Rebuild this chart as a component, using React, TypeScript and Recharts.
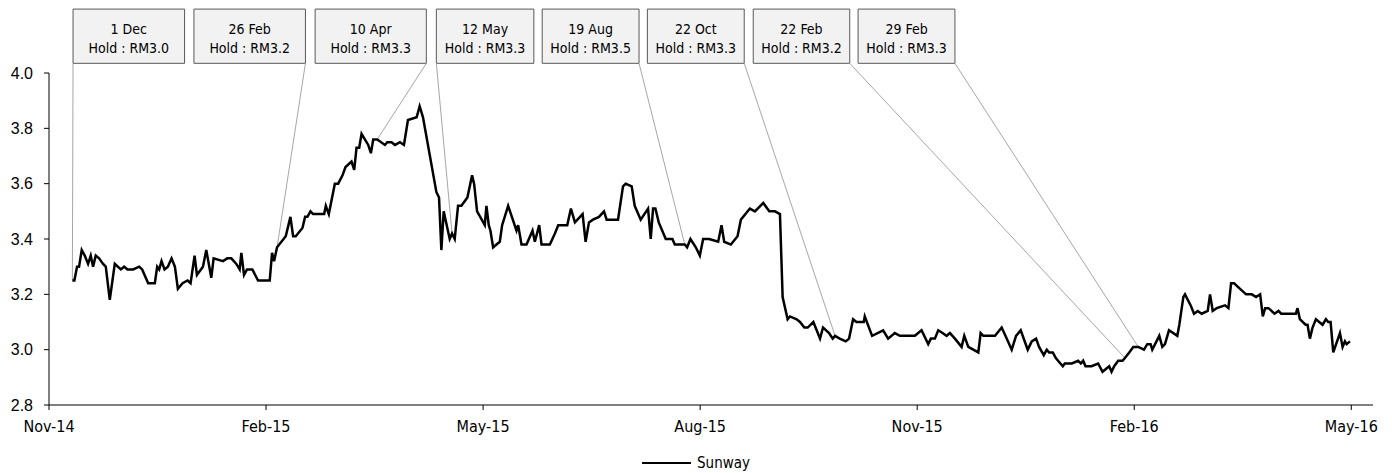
import React from 'react';
import { LineChart, Line, XAxis, YAxis, ReferenceLine, ReferenceArea, Legend } from 'recharts';

// ---- axis ticks ----
const TICK_POS = [0, 65, 130, 195, 260, 325, 390];
const TICK_LABELS = ['Nov-14', 'Feb-15', 'May-15', 'Aug-15', 'Nov-15', 'Feb-16', 'May-16'];
const Y_TICKS = [2.8, 3.0, 3.2, 3.4, 3.6, 3.8, 4.0];

// ---- series: trading-day position and Sunway close (RM) ----
const DAY_INDEX = [
  7.0, 7.6, 8.4, 9.0, 9.8, 10.7, 11.7, 12.5, 13.2, 14.0, 15.0, 16.2, 17.0, 18.2, 19.7, 21.5, 22.5, 23.5, 25.2, 27.0,
  27.9, 29.7, 31.7, 32.4, 33.0, 33.7, 34.6, 35.6, 36.7, 37.7, 38.6, 40.0, 41.5, 42.4, 43.6, 44.3, 46.1, 47.1, 48.6, 49.3,
  52.1, 53.4, 54.6, 56.1, 57.1, 57.6, 58.4, 59.3, 60.9, 62.6, 66.1, 66.8, 67.4, 68.3, 70.9, 72.3, 73.1, 73.9, 75.9, 76.7,
  77.4, 78.3, 79.1, 82.4, 82.9, 83.8, 85.6, 86.6, 87.9, 88.8, 90.6, 91.4, 92.1, 92.9, 93.6, 95.6, 96.4, 97.1, 98.3, 100.6,
  101.3, 102.6, 103.6, 105.1, 106.3, 107.5, 110.1, 111.0, 112.0, 116.0, 116.8, 117.5, 118.2, 120.0, 120.7, 121.5, 122.5, 123.5, 125.3, 126.7,
  127.3, 128.2, 130.5, 131.0, 131.7, 132.2, 133.0, 135.0, 135.7, 137.5, 140.0, 140.5, 141.5, 143.0, 144.8, 145.5, 146.8, 147.5, 150.0, 151.5,
  152.5, 155.2, 156.3, 157.5, 159.8, 160.7, 161.7, 162.9, 164.7, 166.2, 167.0, 170.4, 171.9, 172.7, 174.5, 175.4, 177.2, 179.4, 180.2, 180.9,
  181.6, 182.6, 184.7, 186.7, 187.4, 190.4, 191.1, 192.1, 193.7, 194.9, 195.9, 197.7, 200.4, 201.4, 202.2, 204.2, 206.2, 207.2, 209.9, 211.4,
  213.9, 215.7, 217.4, 218.9, 219.7, 221.2, 221.9, 223.9, 224.9, 226.2, 227.2, 228.9, 229.9, 230.9, 231.8, 233.6, 234.7, 235.4, 236.8, 238.6,
  239.6, 240.8, 241.8, 244.0, 244.3, 246.5, 249.8, 251.3, 253.3, 254.8, 259.3, 261.3, 263.3, 264.1, 265.3, 266.3, 267.6, 268.8, 269.8, 271.3,
  273.3, 274.1, 275.3, 276.8, 278.3, 279.0, 279.8, 283.3, 285.3, 286.8, 288.3, 289.6, 291.0, 293.1, 294.3, 295.6, 296.5, 297.9, 298.8, 299.5,
  300.6, 301.5, 303.6, 304.2, 306.3, 308.2, 309.0, 309.7, 310.4, 312.2, 314.2, 315.5, 317.5, 318.2, 319.0, 320.2, 321.5, 322.2, 323.5, 324.7,
  326.2, 327.9, 328.9, 329.9, 330.4, 332.5, 333.4, 334.2, 335.4, 337.9, 338.5, 339.7, 340.2, 341.9, 342.9, 344.0, 345.2, 347.0, 347.7, 348.5,
  349.7, 352.2, 353.2, 354.0, 354.9, 356.7, 358.5, 360.2, 361.5, 362.7, 363.5, 364.2, 365.2, 367.0, 368.2, 369.0, 373.4, 373.9, 374.6, 376.3,
  376.9, 377.6, 378.4, 379.4, 381.4, 382.4, 383.1, 383.8, 384.6, 386.6, 387.4, 388.1, 388.6, 389.6,
];
const SUNWAY = [
  3.25, 3.25, 3.30, 3.30, 3.36, 3.34, 3.31, 3.34, 3.30, 3.34, 3.33, 3.31, 3.30, 3.18, 3.31, 3.29, 3.30, 3.29, 3.29, 3.30,
  3.29, 3.24, 3.24, 3.30, 3.29, 3.32, 3.29, 3.30, 3.33, 3.30, 3.22, 3.24, 3.25, 3.24, 3.34, 3.27, 3.30, 3.36, 3.26, 3.33,
  3.32, 3.33, 3.33, 3.31, 3.29, 3.35, 3.27, 3.29, 3.29, 3.25, 3.25, 3.35, 3.32, 3.37, 3.41, 3.48, 3.41, 3.41, 3.44, 3.48,
  3.48, 3.50, 3.49, 3.49, 3.52, 3.49, 3.60, 3.60, 3.63, 3.66, 3.68, 3.65, 3.73, 3.73, 3.78, 3.74, 3.71, 3.76, 3.76, 3.74,
  3.75, 3.75, 3.74, 3.75, 3.74, 3.83, 3.84, 3.88, 3.84, 3.57, 3.55, 3.36, 3.50, 3.40, 3.42, 3.40, 3.52, 3.52, 3.55, 3.63,
  3.60, 3.50, 3.45, 3.52, 3.45, 3.43, 3.37, 3.39, 3.45, 3.52, 3.43, 3.45, 3.38, 3.38, 3.43, 3.39, 3.45, 3.38, 3.38, 3.42,
  3.45, 3.45, 3.51, 3.46, 3.49, 3.39, 3.46, 3.47, 3.48, 3.50, 3.47, 3.47, 3.59, 3.60, 3.59, 3.52, 3.47, 3.51, 3.40, 3.51,
  3.51, 3.46, 3.40, 3.40, 3.38, 3.38, 3.37, 3.40, 3.37, 3.34, 3.40, 3.40, 3.39, 3.45, 3.39, 3.38, 3.41, 3.47, 3.51, 3.50,
  3.53, 3.50, 3.50, 3.49, 3.19, 3.11, 3.12, 3.11, 3.10, 3.08, 3.08, 3.10, 3.07, 3.04, 3.08, 3.06, 3.04, 3.05, 3.04, 3.03,
  3.04, 3.11, 3.10, 3.10, 3.12, 3.05, 3.07, 3.04, 3.06, 3.05, 3.05, 3.07, 3.02, 3.04, 3.04, 3.07, 3.06, 3.05, 3.06, 3.04,
  3.01, 3.05, 3.01, 3.00, 2.99, 3.06, 3.05, 3.05, 3.08, 3.04, 3.00, 3.05, 3.07, 3.00, 3.03, 3.04, 3.01, 2.98, 3.00, 2.99,
  2.99, 2.97, 2.94, 2.95, 2.95, 2.96, 2.95, 2.96, 2.94, 2.94, 2.95, 2.92, 2.94, 2.92, 2.94, 2.96, 2.96, 2.97, 2.99, 3.01,
  3.01, 3.00, 3.02, 3.02, 3.00, 3.05, 3.01, 3.02, 3.07, 3.05, 3.09, 3.19, 3.20, 3.16, 3.13, 3.14, 3.13, 3.14, 3.20, 3.14,
  3.15, 3.16, 3.15, 3.24, 3.24, 3.22, 3.20, 3.20, 3.19, 3.20, 3.12, 3.15, 3.15, 3.13, 3.14, 3.13, 3.13, 3.15, 3.11, 3.09,
  3.09, 3.04, 3.08, 3.11, 3.09, 3.11, 3.10, 3.10, 2.99, 3.06, 3.01, 3.03, 3.02, 3.03,
];

// ---- analyst calls ----
const CALL_DATES = ['1 Dec', '26 Feb', '10 Apr', '12 May', '19 Aug', '22 Oct', '22 Feb', '29 Feb'];
const CALL_TEXT = ['Hold : RM3.0', 'Hold : RM3.2', 'Hold : RM3.3', 'Hold : RM3.3', 'Hold : RM3.5', 'Hold : RM3.3', 'Hold : RM3.2', 'Hold : RM3.3'];
const CALL_AT = [7.0, 68.3, 98.3, 120.7, 190.4, 235.4, 322.2, 326.2];

// ---- callout box layout (axis units) ----
const BOX_LEFT = [7.2, 43.4, 79.7, 116.0, 147.7, 179.2, 210.9, 242.3];
const BOX_RIGHT = [40.6, 76.8, 113.0, 145.2, 176.7, 208.2, 239.8, 271.3];
const ANCHOR_LEFT = [true, false, false, true, false, false, false, false];
const BOX_BOTTOM = 4.035;
const BOX_TOP = 4.231;

const SANS = '"DejaVu Sans Condensed", "DejaVu Sans", sans-serif';
const ARIAL = '"Liberation Sans", Arial, sans-serif';

const data = DAY_INDEX.map((d, i) => ({ day: d, sunway: SUNWAY[i] }));
const priceAt = (d: number) => SUNWAY[DAY_INDEX.indexOf(d)];

const BoxLabel = (props: any) => {
  const { viewBox, date, text } = props;
  if (!viewBox) return null;
  const cx = viewBox.x + viewBox.width / 2;
  return (
    <g>
      <text x={cx} y={viewBox.y + 24.5} textAnchor="middle" fontFamily={SANS} fontSize={14} fill="#000">
        {date}
      </text>
      <text x={cx} y={viewBox.y + 43.5} textAnchor="middle" fontFamily={SANS} fontSize={14} fill="#000">
        {text}
      </text>
    </g>
  );
};

const LegendContent = () => (
  <div style={{ width: '100%', height: 20, display: 'flex', justifyContent: 'center', alignItems: 'center' }}>
    <svg width={50} height={20} style={{ display: 'block' }}>
      <line x1={0} y1={10} x2={49} y2={10} stroke="#000" strokeWidth={2} />
    </svg>
    <span style={{ fontFamily: SANS, fontSize: 15, color: '#000', marginLeft: 5 }}>Sunway</span>
  </div>
);

export default function App() {
  return (
    <div style={{ position: 'absolute', left: 0, top: 0, width: 1392, height: 473, background: '#fff' }}>
      <LineChart width={1392} height={473} data={data} margin={{ top: 73, right: 19, left: 0, bottom: 18 }}>
        <XAxis
          dataKey="day"
          type="number"
          domain={[0, 396.5]}
          ticks={TICK_POS}
          interval={0}
          tickFormatter={(v: number) => TICK_LABELS[TICK_POS.indexOf(v)]}
          tickSize={5}
          tickMargin={11}
          height={30}
          axisLine={{ stroke: '#000' }}
          tickLine={{ stroke: '#000' }}
          tick={{ fill: '#000', fontSize: 16, fontFamily: SANS }}
        />
        <YAxis
          type="number"
          domain={[2.8, 4.0]}
          ticks={Y_TICKS}
          interval={0}
          tickFormatter={(v: number) => v.toFixed(1)}
          width={49}
          tickSize={5}
          tickMargin={11}
          axisLine={{ stroke: '#000' }}
          tickLine={{ stroke: '#000' }}
          tick={{ fill: '#000', fontSize: 16, fontFamily: ARIAL }}
        />
        {CALL_AT.map((d, i) => (
          <ReferenceLine
            key={`lead-${i}`}
            segment={[
              { x: ANCHOR_LEFT[i] ? BOX_LEFT[i] : BOX_RIGHT[i], y: BOX_BOTTOM },
              { x: d, y: priceAt(d) },
            ]}
            stroke="#a6a6a6"
            strokeWidth={1}
            ifOverflow="visible"
          />
        ))}
        {CALL_DATES.map((date, i) => (
          <ReferenceArea
            key={`box-${i}`}
            x1={BOX_LEFT[i]}
            x2={BOX_RIGHT[i]}
            y1={BOX_BOTTOM}
            y2={BOX_TOP}
            fill="#f2f2f2"
            fillOpacity={1}
            stroke="#595959"
            strokeWidth={1}
            ifOverflow="visible"
            label={(p: any) => <BoxLabel {...p} date={date} text={CALL_TEXT[i]} />}
          />
        ))}
        <Line
          type="linear"
          dataKey="sunway"
          name="Sunway"
          stroke="#000"
          strokeWidth={2.5}
          dot={false}
          activeDot={false}
          isAnimationActive={false}
        />
        <Legend
          verticalAlign="bottom"
          height={20}
          wrapperStyle={{ left: 0, bottom: 0, width: 1392 }}
          content={() => <LegendContent />}
        />
      </LineChart>
    </div>
  );
}
